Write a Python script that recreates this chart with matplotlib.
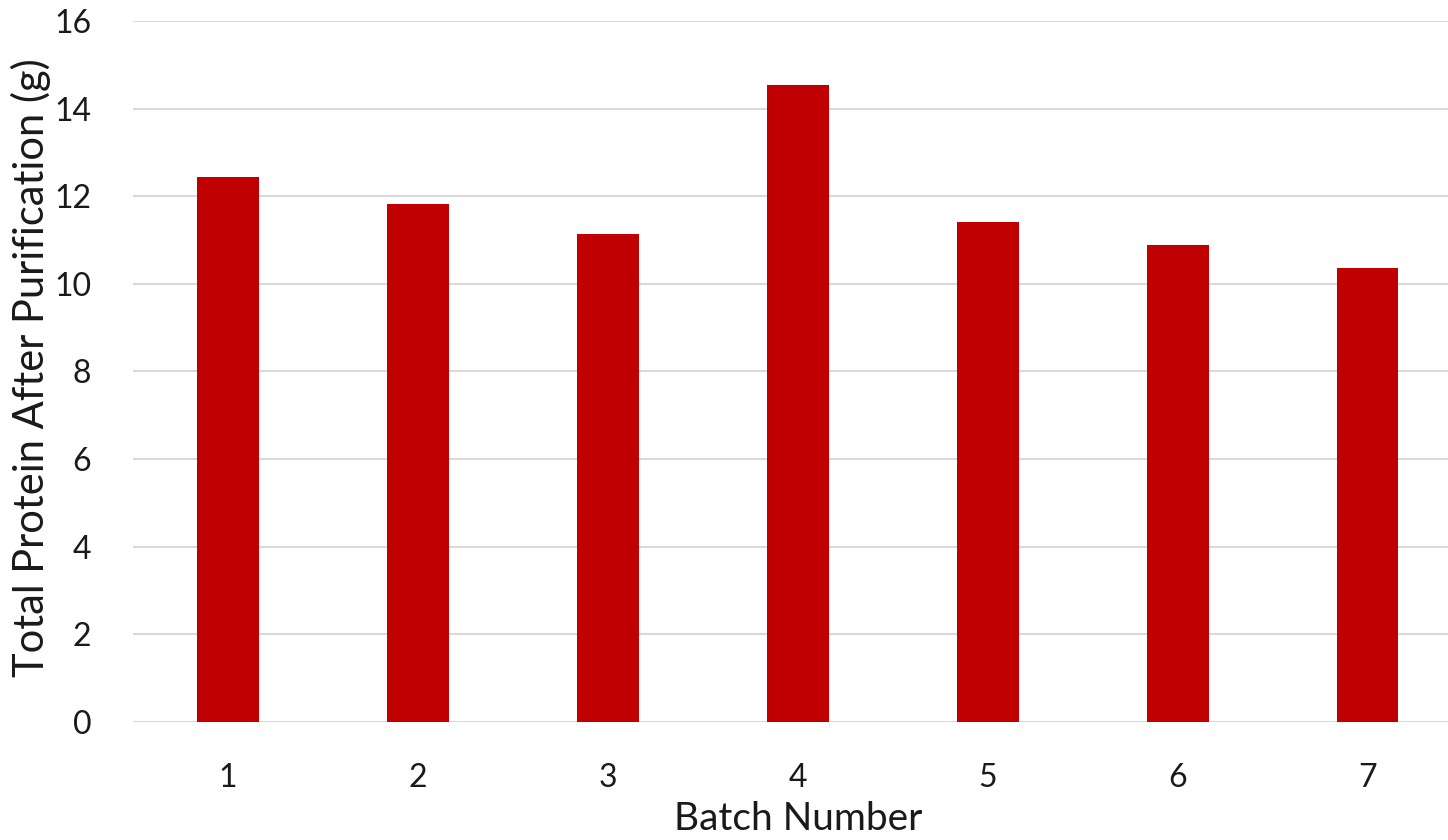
import matplotlib
matplotlib.use("Agg")
import matplotlib.pyplot as plt

# values
batches = ["1", "2", "3", "4", "5", "6", "7"]
protein_g = [12.44, 11.81, 11.13, 14.55, 11.41, 10.88, 10.37]
y_ticks = [0, 2, 4, 6, 8, 10, 12, 14, 16]

BAR_COLOR = "#C00000"
GRID_COLOR = "#D9D9D9"
TEXT_COLOR = "#1a1a1a"

plt.rcParams["font.family"] = ["Lato", "DejaVu Sans"]

fig = plt.figure(figsize=(14.48, 8.4), dpi=100)
# axes right edge runs past the canvas, as in the (cropped) reference
ax = fig.add_axes([133 / 1448, 118.3 / 840, 1329.7 / 1448, 700.7 / 840])

x = list(range(len(batches)))
ax.bar(x, protein_g, width=0.324, color=BAR_COLOR, zorder=3)

ax.set_xlim(-0.5, len(batches) - 0.5)
ax.set_ylim(0, 16)
ax.set_yticks(y_ticks)
ax.set_yticklabels([str(t) for t in y_ticks])
ax.set_xticks(x)
ax.set_xticklabels(batches)

ax.yaxis.grid(True, color=GRID_COLOR, linewidth=1.5, zorder=0)
ax.set_axisbelow(True)
for s in ax.spines.values():
    s.set_visible(False)
ax.tick_params(axis="both", length=0, labelsize=23, colors=TEXT_COLOR)
ax.tick_params(axis="y", pad=30)
ax.tick_params(axis="x", pad=30)

ax.set_xlabel("Batch Number", fontsize=28, color=TEXT_COLOR)
ax.set_ylabel("Total Protein After Purification (g)", fontsize=30, color=TEXT_COLOR)
ax.xaxis.set_label_coords(0.5, -0.113)
ax.yaxis.set_label_coords(-0.062, 0.505)

fig.savefig("out.png", dpi=100)
